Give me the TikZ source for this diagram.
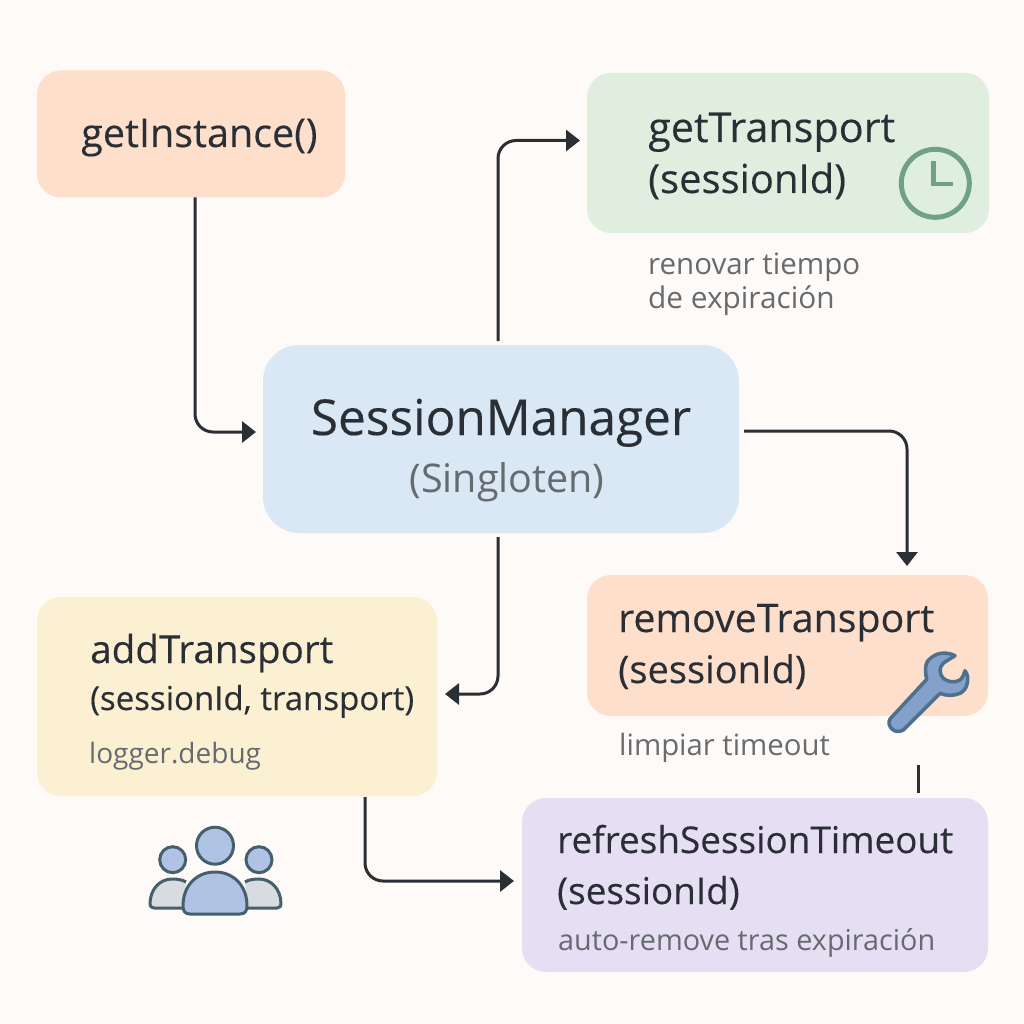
\documentclass[tikz,border=0pt]{standalone}
\usepackage{fontspec}
\setmainfont{Open Sans}
\newfontfamily\medfont[FakeBold=0.25]{Open Sans}
\usetikzlibrary{arrows.meta}

\definecolor{pagebg}{HTML}{FEFAF7}
\definecolor{orangebox}{HTML}{FEDFCB}
\definecolor{greenbox}{HTML}{E0EEDF}
\definecolor{bluebox}{HTML}{DAE8F6}
\definecolor{yellowbox}{HTML}{FCF0D2}
\definecolor{purplebox}{HTML}{E6DFF3}
\definecolor{inktext}{HTML}{2A2F36}
\definecolor{greytext}{HTML}{666B70}
\definecolor{clockgreen}{HTML}{6FA285}
\definecolor{iconline}{HTML}{45606C}
\definecolor{wrenchfill}{HTML}{84A1CB}
\definecolor{wrenchline}{HTML}{4E6F8E}
\definecolor{personfill}{HTML}{AFC3E4}
\definecolor{sidefill}{HTML}{D8DBE0}

\newcommand{\mainsize}[1]{\fontsize{#1}{#1}\medfont}
\newcommand{\subsize}[1]{\fontsize{#1}{#1}\selectfont}

\tikzset{
  boxnode/.style={inner sep=0pt, outer sep=0pt, rounded corners=24pt},
  mainlabel/.style={anchor=base west, inner sep=0pt, text=inktext},
  sublabel/.style={anchor=base west, inner sep=0pt, text=greytext},
  flow/.style={draw=inktext, line width=3pt, rounded corners=18pt, -{Triangle[length=14pt,width=21pt]}},
  person/.style={draw=iconline, line width=3pt, fill=personfill}
}

\begin{document}
\begin{tikzpicture}[x=1pt,y=-1pt]

\useasboundingbox (0,0) rectangle (1024,1024);
\fill[pagebg] (0,0) rectangle (1024,1024);

% boxes
\node[boxnode, fill=orangebox, minimum width=308pt, minimum height=127pt] (getinst) at (191,134) {};
\node[boxnode, fill=greenbox, minimum width=402pt, minimum height=160pt] (gettrans) at (788,153) {};
\node[boxnode, fill=bluebox, minimum width=476pt, minimum height=188pt, rounded corners=36pt] (mgr) at (501,439) {};
\node[boxnode, fill=orangebox, minimum width=401pt, minimum height=141pt] (removetrans) at (787.5,645.5) {};
\node[boxnode, fill=yellowbox, minimum width=400pt, minimum height=199pt] (addtrans) at (237,696.5) {};
\node[boxnode, fill=purplebox, minimum width=466pt, minimum height=174pt] (refresh) at (755,885) {};

% labels
\node[mainlabel, font=\mainsize{39.5}] (getinsttxt) at (81,147) {getInstance()};
\node[mainlabel, font=\mainsize{41.3}] (gettranstxt) at (648,142) {getTransport};
\node[mainlabel, font=\mainsize{40}] (gettransarg) at (648,193) {(sessionId)};
\node[sublabel, font=\subsize{29.5}] (renovar) at (648,274) {renovar tiempo};
\node[sublabel, font=\subsize{29.8}] (expira) at (648,308) {de expiración};
\node[mainlabel, anchor=base, font=\mainsize{49.5}] (mgrtxt) at (501,435) {SessionManager};
\node[sublabel, anchor=base, font=\subsize{39.5}] (mgrsub) at (507,492) {(Singloten)};
\node[mainlabel, font=\mainsize{39.3}] (removetxt) at (618,632) {removeTransport};
\node[mainlabel, font=\mainsize{38}] (removearg) at (618,683) {(sessionId)};
\node[sublabel, font=\subsize{29.3}] (limpiar) at (619,755) {limpiar timeout};
\node[mainlabel, font=\mainsize{38.6}] (addtxt) at (90,663) {addTransport};
\node[mainlabel, font=\mainsize{33}] (addarg) at (90,710) {(sessionId, transport)};
\node[sublabel, font=\subsize{28}] (logger) at (89,763) {logger.debug};
\node[mainlabel, font=\mainsize{36.9}] (refreshtxt) at (557,853) {refreshSessionTimeout};
\node[mainlabel, font=\mainsize{36.9}] (refresharg) at (557,904) {(sessionId)};
\node[sublabel, font=\subsize{28.8}] (autoremove) at (558,950) {auto-remove tras expiración};

% connectors
\coordinate (stubtop) at (918,765);
\coordinate (stubend) at (918,793);
\draw[flow, shorten <=0pt, shorten >=7pt] ([xshift=4pt]getinst.south) |- ([yshift=7pt]mgr.west);
\draw[flow, shorten <=4pt, shorten >=7pt] ([xshift=-3pt]mgr.north) |- ([yshift=12.5pt]gettrans.west);
\draw[flow, shorten <=5pt, shorten >=9pt] ([yshift=8pt]mgr.east) -| ([xshift=119.5pt]removetrans.north);
\draw[flow, shorten <=4pt, shorten >=8pt] ([xshift=-3pt]mgr.south) |- ([yshift=2.5pt]addtrans.east);
\draw[flow, shorten <=1pt, shorten >=8pt] ([xshift=128pt]addtrans.south) |- ([yshift=4pt]refresh.west);
\draw[draw=inktext, line width=3pt] (stubtop) -- (stubend);

% clock
\draw[clockgreen, line width=5pt] (935.3,183.3) circle (34);
\draw[clockgreen, line width=4.5pt, line join=miter] (933.3,161) -- (933.3,184) -- (953.3,184);

% wrench
\draw[draw=wrenchline, fill=wrenchfill, line width=3.5pt, line join=round]
  (890,719) -- (926.7,679.3) .. controls (924,668) and (926,660) .. (931.7,657.3)
  .. controls (938,652) and (948,652) .. (955,655.7)
  .. controls (950,659) and (946,661) .. (943.3,663.3)
  .. controls (939,667) and (939,674) .. (943.3,678.3)
  .. controls (947,682) and (955,683) .. (960,680)
  .. controls (963,677) and (964,674) .. (965,670.7)
  .. controls (968,674) and (968,679) .. (967.3,683.3)
  .. controls (966,690) and (962,692) .. (960,693.3)
  .. controls (954,696) and (946,696) .. (940,693.3)
  -- (903.3,730) .. controls (899,732) and (895,732) .. (892,729)
  .. controls (889,726) and (888,722) .. (890,719) -- cycle;

% people
\draw[person] (172.7,859.7) circle (13);
\draw[person] (259,859.7) circle (13);
\draw[person, fill=sidefill, line join=round] (183,908) -- (154,908) .. controls (151,908) and (150,906) .. (150,904) .. controls (150,889) and (160,879) .. (172,879) .. controls (178,879) and (183,880) .. (186,882);
\draw[person, fill=sidefill, line join=round] (248,908) -- (277,908) .. controls (280,908) and (281,906) .. (281,904) .. controls (281,889) and (271,879) .. (259,879) .. controls (253,879) and (248,880) .. (245,882);
\draw[person] (215,845.7) circle (18.5);
\draw[person] (190,914) .. controls (185,914) and (183,911) .. (183,906) .. controls (183,885) and (197,872) .. (215,872)
  .. controls (233,872) and (247,885) .. (247,906) .. controls (247,911) and (245,914) .. (240,914) -- cycle;

\end{tikzpicture}
\end{document}
